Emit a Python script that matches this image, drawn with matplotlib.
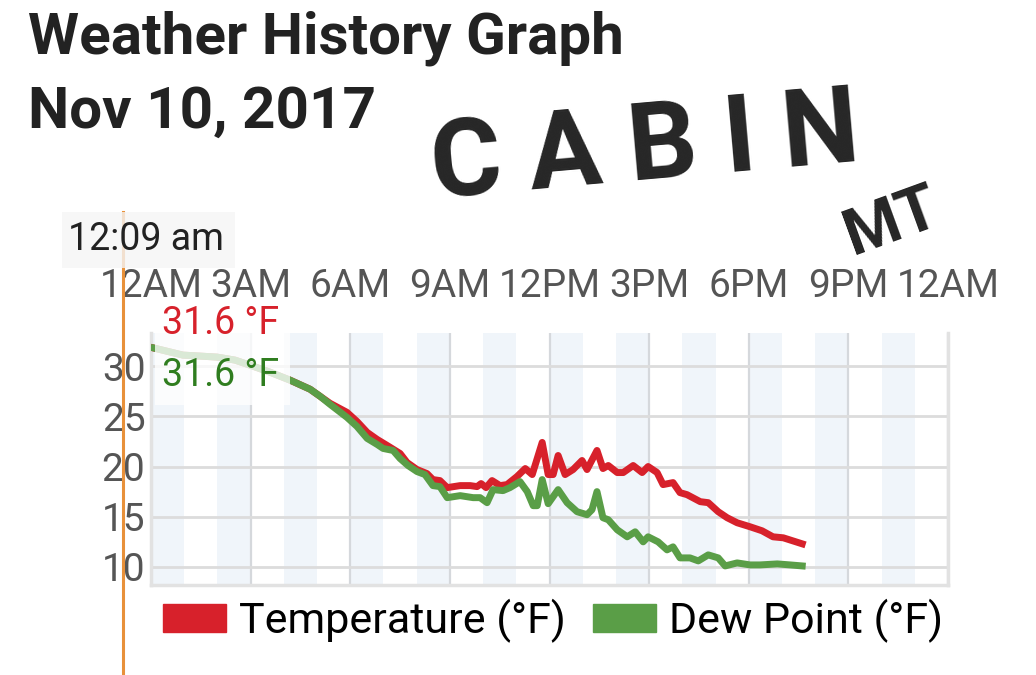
import matplotlib.pyplot as plt
from matplotlib.patches import Rectangle, Patch
from matplotlib.lines import Line2D

# hours after midnight, Nov 10 2017
temp_hours = [0.09, 0.96, 1.48, 1.99, 2.53, 2.98, 3.58, 4.19, 4.79, 5.09, 5.39, 5.90,
              6.20, 6.51, 6.81, 7.11, 7.50, 7.71, 8.01, 8.31, 8.49, 8.70, 8.92, 9.31,
              9.61, 9.82, 9.94, 10.09, 10.27, 10.51, 10.72, 11.02, 11.27, 11.48, 11.78,
              11.96, 12.11, 12.26, 12.47, 12.71, 12.98, 13.13, 13.43, 13.61, 13.77,
              14.04, 14.22, 14.52, 14.79, 14.97, 15.24, 15.42, 15.72, 15.93, 16.14,
              16.54, 16.78, 17.08, 17.35, 17.65, 18.04, 18.40, 18.73, 19.04, 19.61]
temp_f = [31.8, 31.1, 31.0, 30.9, 30.6, 30.1, 29.4, 28.6, 27.7, 27.0, 26.3, 25.4,
          24.5, 23.4, 22.7, 22.1, 21.3, 20.4, 19.7, 19.3, 18.7, 18.6, 17.9, 18.1,
          18.1, 18.0, 18.3, 17.9, 18.6, 18.1, 18.2, 19.0, 19.8, 19.2, 22.4,
          19.2, 19.2, 21.1, 19.2, 19.7, 20.6, 19.7, 21.6, 19.8, 20.1,
          19.4, 19.4, 20.1, 19.4, 20.0, 19.4, 18.2, 18.4, 17.4, 17.2,
          16.5, 16.4, 15.5, 14.9, 14.4, 14.0, 13.6, 13.0, 12.9, 12.3]

dew_hours = [0.09, 0.96, 1.48, 1.99, 2.53, 2.98, 3.58, 4.19, 4.79, 5.09, 5.39, 5.90,
             6.20, 6.51, 6.81, 6.99, 7.29, 7.50, 7.74, 8.01, 8.25, 8.49, 8.70, 8.92,
             9.31, 9.70, 9.91, 10.12, 10.30, 10.60, 10.81, 11.11, 11.33, 11.51, 11.63,
             11.78, 11.96, 12.26, 12.53, 12.83, 13.13, 13.28, 13.43, 13.61, 13.77,
             14.04, 14.34, 14.58, 14.82, 14.97, 15.27, 15.54, 15.72, 15.93, 16.23,
             16.48, 16.78, 17.08, 17.29, 17.65, 18.04, 18.34, 18.86, 19.25, 19.61]
dew_f = [31.8, 31.1, 31.0, 30.9, 30.6, 30.1, 29.4, 28.6, 27.7, 27.0, 26.2, 24.9,
         24.0, 22.8, 22.2, 21.8, 21.6, 20.8, 20.1, 19.5, 19.2, 18.1, 18.0, 16.9,
         17.1, 16.9, 16.9, 16.4, 17.7, 17.6, 17.9, 18.5, 17.5, 16.1, 16.1,
         18.7, 16.3, 17.7, 16.4, 15.5, 15.2, 15.7, 17.5, 14.9, 14.7,
         13.7, 13.0, 13.5, 12.5, 13.0, 12.5, 11.7, 12.0, 10.9, 10.9,
         10.6, 11.2, 10.9, 10.1, 10.4, 10.2, 10.2, 10.3, 10.2, 10.1]

tick_hours = [0, 3, 6, 9, 12, 15, 18, 21, 24]
tick_labels = ['12AM', '3AM', '6AM', '9AM', '12PM', '3PM', '6PM', '9PM', '12AM']
y_ticks = [10, 15, 20, 25, 30]

RED = '#d7212b'
GREEN = '#5a9e47'
W, H = 1036, 675

def fx(x):
    return x / W

def fy(y):
    return 1 - y / H

plt.rcParams['font.family'] = ['Roboto', 'DejaVu Sans']
fig = plt.figure(figsize=(W / 100, H / 100), dpi=100)
ax = fig.add_axes([fx(151), fy(585), 797 / W, 252 / H])

for h in range(0, 24, 2):
    ax.axvspan(h, h + 1, color='#f0f5fa', lw=0, zorder=0)

ax.plot(temp_hours, temp_f, color=RED, lw=5, zorder=3)
ax.plot(dew_hours, dew_f, color=GREEN, lw=5, zorder=4)

ax.set_xlim(0, 24)
ax.set_ylim(8.2, 33.3)
ax.set_xticks(tick_hours, tick_labels)
ax.set_yticks(y_ticks)
ax.set_axisbelow(True)
ax.grid(axis='x', color='#d5d8dc', lw=1.6)
ax.grid(axis='y', color='#dcdcdc', lw=2)
ax.tick_params(axis='x', top=True, bottom=False, labeltop=True, labelbottom=False,
               length=0, pad=20, labelsize=28, labelcolor='#555555')
ax.tick_params(axis='y', length=0, pad=4, labelsize=28, labelcolor='#555555')
ax.spines['top'].set_visible(False)
for s in ['left', 'right', 'bottom']:
    ax.spines[s].set_color('#e2e2e2')
    ax.spines[s].set_linewidth(2.5)

# titles
fig.text(fx(28), fy(53), 'Weather History Graph', fontsize=42, fontweight='bold',
         color='#222222', va='baseline')
fig.text(fx(28), fy(128), 'Nov 10, 2017', fontsize=42, fontweight='bold',
         color='#222222', va='baseline')

# hand-written note
fig.text(fx(645), fy(150), 'C A B I N', fontsize=78, fontweight='bold',
         color='#262626', ha='center', va='center', rotation=5)
fig.text(fx(892), fy(222), 'MT', fontsize=46, fontweight='bold',
         color='#262626', ha='center', va='center', rotation=20)

# hover cursor and tooltip
fig.add_artist(Line2D([fx(123), fx(123)], [fy(212), fy(675)], color='#e8913a',
                      lw=2.2, zorder=8))
fig.add_artist(Rectangle((fx(62), fy(268)), 173 / W, 56 / H, transform=fig.transFigure,
                         facecolor='#f5f5f5', alpha=0.8, lw=0, zorder=9))
fig.text(fx(68), fy(239), '12:09 am', fontsize=27, color='#222222', va='center', zorder=10)
fig.add_artist(Rectangle((fx(155), fy(405)), 135 / W, 107 / H, transform=fig.transFigure,
                         facecolor='white', alpha=0.78, lw=0, zorder=9))
fig.text(fx(162), fy(323), '31.6 °F', fontsize=27, color=RED, va='center', zorder=10)
fig.text(fx(162), fy(376), '31.6 °F', fontsize=27, color='#2f7d1f', va='center', zorder=10)

handles = [Patch(color=RED, label='Temperature (°F)'),
           Patch(color=GREEN, label='Dew Point (°F)')]
fig.legend(handles=handles, loc='center', bbox_to_anchor=(fx(553), fy(621)), ncol=2,
           frameon=False, handlelength=1.45, handleheight=0.65,
           handletextpad=0.3, columnspacing=0.65,
           prop={'family': ['Roboto'], 'size': 31})

fig.savefig('out.png', dpi=100)
